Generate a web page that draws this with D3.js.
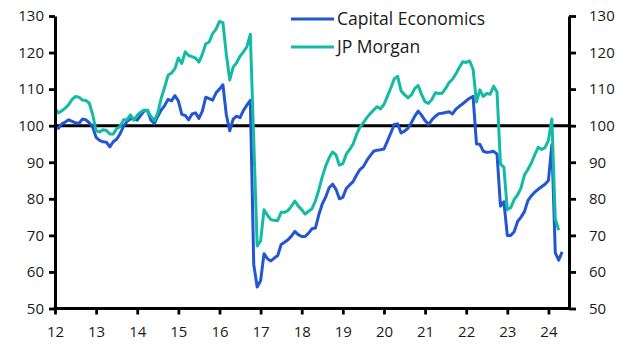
<!DOCTYPE html>
<html>
<head>
<meta charset="utf-8">
<script src="https://cdn.jsdelivr.net/npm/d3@7"></script>
<style>
  html, body { margin: 0; padding: 0; background: #fff; }
  svg { display: block; }
  text { font-family: "Open Sans", "Noto Sans", sans-serif; fill: #1a1a1a; }
</style>
</head>
<body>
<svg id="chart" width="629" height="355"></svg>
<script>
// ---- Data (monthly, starting January 2012) ----
const startYear = 2012;
const seriesNames = ["Capital Economics", "JP Morgan"];
const capitalEconomics = [
  99.6, 99.3, 100.5, 101, 101.6, 101.2, 100.8, 100.6, 101.8, 101.6, 100.8, 99.6,
  96.8, 96.0, 95.6, 95.5, 94.2, 95.6, 96.3, 97.8, 99.8, 101.1, 101.8, 102,
  101.5, 102.8, 104, 104.2, 101.5, 100.6, 102.6, 104.3, 105.5, 107.2, 106.8, 108.2,
  106.8, 103.1, 102.8, 101.6, 103.2, 103.5, 102, 104, 107.8, 107.4, 107, 109,
  110, 111.2, 103, 98.6, 101.8, 102.6, 102.2, 104.2, 105.6, 106.9, 62, 55.9,
  57.6, 65, 63.6, 63, 63.8, 64.5, 67.5, 68.1, 68.8, 69.8, 71.1, 70.2,
  69.7, 69.7, 70.6, 71.8, 72, 75.7, 78.6, 80.5, 83, 84, 82.6, 80,
  80.4, 82.8, 83.8, 84.7, 86.5, 88, 88.8, 90.5, 91.8, 93, 93.3, 93.4,
  93.6, 95.8, 98, 100.3, 100.5, 98, 98.5, 99.3, 100.8, 102.6, 104, 102.8,
  101.4, 100.3, 101.6, 102.6, 103.3, 103.4, 103.6, 103.8, 103.2, 104.5, 105.3, 106,
  106.8, 107.5, 108, 95, 94.9, 93, 92.7, 92.8, 93, 92.2, 78, 79.2,
  70, 70, 71, 73.8, 75, 76.5, 79.5, 80.8, 81.8, 82.6, 83.3, 84,
  85, 94.8, 65.2, 63.2, 65.5
];
const jpMorgan = [
  104.7, 103.5, 104.1, 104.8, 105.8, 107.2, 108, 107.8, 107, 106.9, 106.2, 103,
  98.6, 98.3, 98.9, 98.7, 97.7, 97.7, 99.2, 99.8, 101.6, 101.6, 103, 101.5,
  102.8, 103.7, 104.3, 104.1, 102.6, 101.4, 103.5, 107.5, 110.5, 113.8, 114.4, 115.6,
  118.5, 117, 120.2, 119.2, 118.9, 118.5, 117.4, 119.5, 122.4, 122.9, 125.2, 126.4,
  128.5, 128.2, 119.5, 112.5, 116, 117.2, 119, 120.2, 121.6, 125, 96, 67.1,
  68.5, 77, 75.5, 74.3, 74.1, 74.1, 76.3, 76.3, 76.8, 78, 79.4, 78,
  77, 75.8, 76.6, 77.3, 79.4, 82.5, 86, 89, 91.2, 92.8, 92, 89.2,
  89.6, 92.2, 93.5, 95, 97.6, 99.6, 100.8, 102.2, 103.3, 104.3, 105.2, 104.6,
  105.8, 108, 110.3, 112.8, 113.5, 109.5, 108.5, 107.6, 108.4, 110.2, 111, 108.5,
  106.5, 106.1, 107.2, 109, 108.8, 108.9, 110.2, 111.8, 112.7, 114.2, 115.9, 117.5,
  117.3, 117.7, 115.5, 106.5, 109.8, 108, 108.8, 108.6, 110.8, 109.2, 89.5, 88.6,
  77, 77.6, 79.8, 81.1, 83, 86.5, 88, 89.8, 92, 94.1, 93.5, 94,
  96, 101.8, 74.6, 71.4
];
const xTickYears = [2012, 2013, 2014, 2015, 2016, 2017, 2018, 2019, 2020, 2021, 2022, 2023, 2024];
const xTickLabels = ["12", "13", "14", "15", "16", "17", "18", "19", "20", "21", "22", "23", "24"];
const yTicks = [50, 60, 70, 80, 90, 100, 110, 120, 130];
const referenceValue = 100;

// ---- Layout / style ----
const colors = ["#2356d3", "#13bba4"];
const plotLeft = 55, plotRight = 569, plotTop = 16, plotBottom = 308.5;

const svg = d3.select("#chart");
const x = d3.scaleLinear().domain([2012, 2024.5]).range([plotLeft, plotRight]);
const y = d3.scaleLinear().domain([50, 130]).range([plotBottom, plotTop]);

const toPoints = arr => arr.map((v, i) => ({ t: startYear + i / 12, v }));
const line = d3.line().x(d => x(d.t)).y(d => y(d.v));

// reference line at 100
svg.append("line")
  .attr("x1", plotLeft).attr("x2", plotRight)
  .attr("y1", y(referenceValue)).attr("y2", y(referenceValue))
  .attr("stroke", "#000").attr("stroke-width", 3);

// series
[capitalEconomics, jpMorgan].forEach((arr, k) => {
  svg.append("path")
    .datum(toPoints(arr))
    .attr("fill", "none")
    .attr("stroke", colors[k])
    .attr("stroke-width", 3)
    .attr("stroke-linejoin", "round")
    .attr("d", line);
});

// axes
function styleAxis(g) {
  g.selectAll(".domain").attr("stroke", "#000").attr("stroke-width", 3);
  g.selectAll(".tick line").attr("stroke", "#000").attr("stroke-width", 2.8);
  g.selectAll("text").attr("fill", "#1a1a1a").style("font-size", "15px")
    .style("font-family", "'Open Sans', 'Noto Sans', sans-serif");
}

const yLeft = d3.axisLeft(y).tickValues(yTicks).tickSize(6).tickSizeOuter(0).tickPadding(5);
svg.append("g").attr("transform", `translate(${plotLeft},0)`).call(yLeft).call(styleAxis);

const yRight = d3.axisRight(y).tickValues(yTicks).tickSize(7).tickSizeOuter(0).tickPadding(13);
svg.append("g").attr("transform", `translate(${plotRight},0)`).call(yRight).call(styleAxis);

const xAxis = d3.axisBottom(x).tickValues(xTickYears)
  .tickFormat((d, i) => xTickLabels[i]).tickSize(6).tickSizeOuter(0).tickPadding(12);
const gx = svg.append("g").attr("transform", `translate(0,${plotBottom})`).call(xAxis).call(styleAxis);
gx.select(".domain").attr("d", `M${plotLeft - 1.5},0H${plotRight + 1.5}`);

// legend
const legend = svg.append("g");
seriesNames.forEach((name, k) => {
  const ly = 19 + k * 28;
  legend.append("line")
    .attr("x1", 291).attr("x2", 334)
    .attr("y1", ly).attr("y2", ly)
    .attr("stroke", colors[k]).attr("stroke-width", 3);
  legend.append("text")
    .attr("x", 337).attr("y", ly).attr("dy", "0.35em")
    .style("font-size", "17.5px")
    .text(name);
});
</script>
</body>
</html>
